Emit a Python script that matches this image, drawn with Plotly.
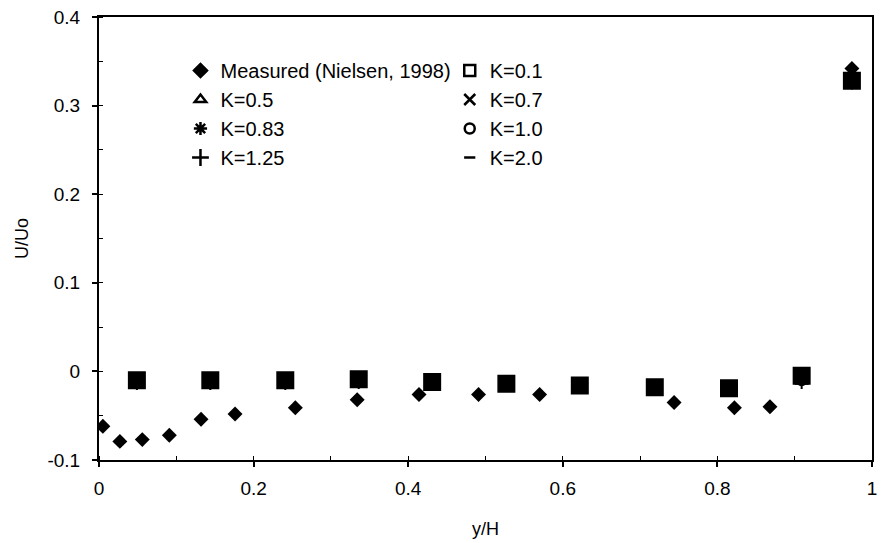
import plotly.graph_objects as go

# ---------------- data ----------------
meas_x = [0.005, 0.027, 0.056, 0.091, 0.132, 0.176, 0.254, 0.334, 0.414, 0.491, 0.570, 0.744, 0.822, 0.868, 0.974]
meas_y = [-0.062, -0.079, -0.077, -0.072, -0.054, -0.048, -0.041, -0.032, -0.026, -0.026, -0.026, -0.035, -0.041, -0.040, 0.342]

k_x = [0.049, 0.144, 0.241, 0.336, 0.431, 0.527, 0.622, 0.719, 0.815, 0.909, 0.974]
k01_y = [-0.010, -0.010, -0.010, -0.009, -0.012, -0.014, -0.016, -0.018, -0.019, -0.005, 0.328]
k05_y = [-0.011, -0.011, -0.011, -0.010, -0.012, -0.014, -0.016, -0.018, -0.019, -0.006, 0.328]
k07_y = [-0.012, -0.012, -0.012, -0.011, -0.013, -0.015, -0.017, -0.019, -0.020, -0.008, 0.327]
k083_y = [-0.012, -0.012, -0.012, -0.011, -0.013, -0.015, -0.017, -0.019, -0.020, -0.009, 0.327]
k10_y = [-0.013, -0.013, -0.013, -0.012, -0.013, -0.015, -0.017, -0.019, -0.020, -0.010, 0.327]
k125_y = [-0.013, -0.013, -0.013, -0.012, -0.014, -0.015, -0.017, -0.019, -0.021, -0.012, 0.326]
k20_y = [-0.014, -0.014, -0.014, -0.013, -0.014, -0.016, -0.018, -0.020, -0.021, -0.014, 0.326]

y_tickvals = [-0.1, 0, 0.1, 0.2, 0.3, 0.4]
y_ticktext = ["-0.1", "0", "0.1", "0.2", "0.3", "0.4"]
x_tickvals = [0, 0.2, 0.4, 0.6, 0.8, 1]
x_ticktext = ["0", "0.2", "0.4", "0.6", "0.8", "1"]

FONT = "Arial, Liberation Sans, sans-serif"
BLACK = "black"

fig = go.Figure()

# K-series data marks (they overlap each other almost completely)
k_series = [
    ("K=0.1", k01_y, "square", 16),
    ("K=0.5", k05_y, "triangle-up-open", 10),
    ("K=0.7", k07_y, "x-thin-open", 10),
    ("K=0.83", k083_y, "asterisk-open", 10),
    ("K=1.0", k10_y, "circle-open", 10),
    ("K=1.25", k125_y, "cross-thin-open", 10),
    ("K=2.0", k20_y, "line-ew-open", 10),
]
for name, ys, sym, sz in k_series:
    fig.add_trace(go.Scatter(
        x=k_x, y=ys, mode="markers", name=name, showlegend=False,
        marker=dict(symbol=sym, size=sz, color=BLACK, line=dict(color=BLACK, width=2)),
    ))

fig.add_trace(go.Scatter(
    x=meas_x, y=meas_y, mode="markers", name="Measured (Nielsen, 1998)", showlegend=False,
    marker=dict(symbol="diamond", size=11.5, color=BLACK, line=dict(width=0)),
))

# legend entries (two columns)
legend_entries = [
    ("Measured (Nielsen, 1998)", "diamond", 10, "legend"),
    ("K=0.5", "triangle-up-open", 10, "legend"),
    ("K=0.83", "asterisk-open", 11, "legend"),
    ("K=1.25", "cross-thin-open", 12, "legend"),
    ("K=0.1", "square-open", 11, "legend2"),
    ("K=0.7", "x-thin-open", 11, "legend2"),
    ("K=1.0", "circle-open", 10, "legend2"),
    ("K=2.0", "line-ew-open", 8, "legend2"),
]
for i, (name, sym, sz, lg) in enumerate(legend_entries):
    fig.add_trace(go.Scatter(
        x=[None], y=[None], mode="markers", name=name, legend=lg, legendgroup=f"g{i}",
        marker=dict(symbol=sym, size=sz, color=BLACK, line=dict(color=BLACK, width=2.5)),
    ))

axis_common = dict(
    showgrid=False, zeroline=False, showline=True, linecolor=BLACK, linewidth=2,
    mirror=True, ticks="outside", ticklen=5, tickwidth=1.5, tickcolor=BLACK,
    tickfont=dict(family=FONT, size=19, color=BLACK),
)

PL, PR, PT, PB = 99, 6, 17, 83
PW, PH = 883 - PL - PR, 543 - PT - PB

fig.update_layout(
    width=883, height=543,
    margin=dict(l=PL, r=PR, t=PT, b=PB),
    paper_bgcolor="white", plot_bgcolor="white",
    font=dict(family=FONT, color=BLACK, size=18),
    xaxis=dict(
        range=[0, 1], tickvals=x_tickvals, ticktext=x_ticktext,
        title=dict(text="y/H", font=dict(family=FONT, size=18), standoff=25),
        minor=dict(dtick=0.1, ticks="inside", ticklen=4, tickcolor=BLACK, tickwidth=1),
        ticklabelstandoff=5,
        **axis_common,
    ),
    yaxis=dict(
        range=[-0.1, 0.4], tickvals=y_tickvals, ticktext=y_ticktext,
        title=dict(text="U/Uo", font=dict(family=FONT, size=18), standoff=14),
        minor=dict(dtick=0.05, ticks="inside", ticklen=4, tickcolor=BLACK, tickwidth=1),
        ticklabelstandoff=8,
        **axis_common,
    ),
    legend=dict(
        x=(181 - PL) / PW, y=(543 - PB - 51) / PH, xanchor="left", yanchor="top",
        bgcolor="rgba(0,0,0,0)", borderwidth=0, tracegroupgap=0,
        font=dict(family=FONT, size=20, color=BLACK), itemwidth=30,
    ),
    legend2=dict(
        x=(452 - PL) / PW, y=(543 - PB - 51) / PH, xanchor="left", yanchor="top",
        bgcolor="rgba(0,0,0,0)", borderwidth=0, tracegroupgap=0,
        font=dict(family=FONT, size=20, color=BLACK), itemwidth=30,
    ),
    showlegend=True,
)

fig.write_html("out.html")
